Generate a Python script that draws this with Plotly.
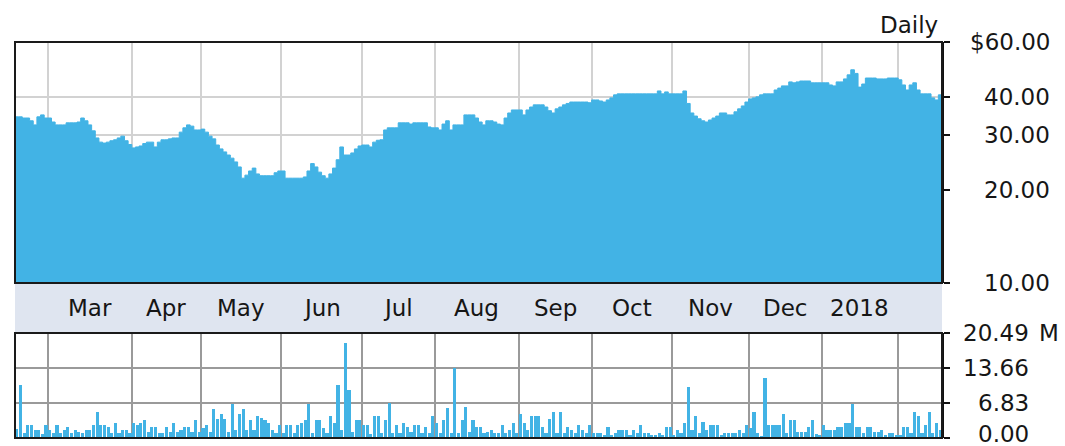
import math
import pandas as pd
import plotly.graph_objects as go

# ---- trading calendar -------------------------------------------------------
MARKET_HOLIDAYS = ["2017-02-20", "2017-04-14", "2017-05-29", "2017-07-04",
                   "2017-09-04", "2017-11-23", "2017-12-25", "2018-01-01",
                   "2018-01-15"]
START_DATE = "2017-02-15"
END_DATE = "2018-02-16"

# ---- daily closing price ($) ------------------------------------------------
price_feb17 = [34.4, 34.4, 34.1, 34.1, 33.4, 32.4, 34.4, 34.9, 34.1]
price_mar = [34.1, 33.1, 32.4, 32.4, 32.4, 32.9, 32.9, 32.9, 33.1, 34.1, 33.4, 32.4,
             31.0, 29.4, 28.5, 28.3, 28.5, 28.8, 29.0, 29.4, 29.8, 28.8, 28.0]
price_apr = [27.3, 27.5, 27.7, 28.2, 28.5, 28.5, 27.5, 28.5, 29.0, 29.0, 29.2, 29.4,
             29.4, 30.7, 31.7, 32.4, 32.1, 31.2, 31.2]
price_may = [31.4, 30.7, 29.8, 29.2, 27.9, 27.1, 26.5, 25.9, 25.3, 24.6, 23.7, 21.8,
             22.3, 23.0, 23.5, 22.5, 22.2, 22.2, 22.2, 22.2, 22.7, 23.0]
price_jun = [23.0, 21.8, 21.8, 21.8, 21.8, 21.8, 22.0, 23.0, 24.3, 23.7, 22.8, 22.2,
             21.8, 22.5, 23.5, 25.0, 27.5, 25.9, 25.9, 26.3, 27.1, 27.7]
price_jul = [27.9, 27.9, 27.5, 28.5, 28.9, 29.0, 31.2, 31.7, 31.7, 31.7, 32.9, 32.9,
             32.9, 32.6, 32.9, 32.9, 32.9, 32.9, 31.9, 31.7]
price_aug = [31.7, 31.2, 32.6, 33.4, 31.2, 32.4, 32.4, 32.4, 34.9, 34.9, 34.9, 34.1,
             33.1, 32.4, 33.4, 33.4, 33.1, 32.6, 32.4, 34.1, 35.4, 36.2, 36.2]
price_sep = [36.2, 34.9, 36.2, 37.0, 37.6, 37.6, 37.6, 37.0, 36.0, 35.4, 36.5, 37.0,
             37.6, 38.0, 38.4, 38.4, 38.4, 38.4, 38.4, 38.2]
price_oct = [39.0, 39.0, 38.7, 38.4, 39.0, 39.6, 40.5, 40.8, 40.8, 40.8, 40.8, 40.8,
             40.8, 40.8, 40.8, 40.8, 40.8, 40.8, 41.7, 40.8, 41.4, 40.8]
price_nov = [40.8, 40.8, 40.8, 41.7, 38.0, 35.4, 34.6, 33.9, 33.4, 33.1, 33.6, 34.1,
             34.6, 35.4, 35.4, 34.9, 34.9, 35.7, 36.5, 37.3, 38.4]
price_dec = [39.3, 39.6, 39.9, 40.5, 40.8, 40.8, 40.8, 42.0, 42.6, 43.3, 43.3, 44.6,
             44.3, 44.6, 44.9, 44.9, 44.9, 44.3, 44.3, 44.3]
price_jan = [44.3, 44.3, 43.6, 43.3, 44.6, 44.6, 45.6, 47.0, 48.8, 47.5, 42.9, 43.9,
             45.9, 45.9, 45.9, 45.6, 45.6, 45.6, 45.9, 45.9, 45.9]
price_feb18 = [45.3, 43.6, 42.0, 43.6, 44.3, 42.0, 40.8, 40.8, 40.8, 39.6, 39.0, 40.5]

# ---- daily volume (millions of shares) --------------------------------------
vol_feb17 = [1.8, 10.3, 1.0, 2.5, 2.5, 1.6, 1.6, 0.8, 2.5]
vol_mar = [1.6, 0.9, 2.5, 1.0, 1.6, 2.1, 1.0, 1.6, 1.2, 1.0, 1.6, 1.6, 2.5, 5.1,
           2.5, 2.5, 2.1, 1.0, 2.9, 1.0, 1.6, 1.6, 1.0]
vol_apr = [3.0, 2.5, 3.0, 3.6, 1.2, 2.1, 2.1, 1.0, 0.9, 2.1, 1.2, 3.0, 1.2, 1.6,
           2.1, 2.1, 1.2, 3.5, 1.2]
vol_may = [1.9, 2.5, 1.2, 5.6, 3.8, 4.7, 3.8, 1.2, 6.6, 1.5, 4.7, 5.6, 1.5, 3.5,
           1.5, 4.2, 4.0, 3.5, 3.0, 1.6, 1.0, 2.5]
vol_jun = [1.0, 2.5, 2.5, 1.0, 2.5, 3.0, 3.5, 6.6, 1.0, 3.6, 3.6, 1.9, 1.0, 4.2,
           3.0, 10.3, 1.5, 18.6, 9.4, 1.2, 3.5, 3.6]
vol_jul = [2.5, 2.5, 0.8, 4.2, 4.2, 1.0, 3.5, 6.8, 1.0, 2.5, 1.0, 3.0, 2.1, 1.2,
           2.5, 2.5, 1.0, 2.1, 1.0, 4.2]
vol_aug = [3.0, 0.9, 3.5, 5.8, 1.0, 13.6, 1.0, 3.5, 6.0, 1.2, 3.5, 2.1, 2.1, 1.0,
           1.2, 1.6, 0.9, 1.0, 2.5, 1.0, 1.6, 3.0, 1.0]
vol_sep = [4.7, 3.0, 1.6, 4.2, 4.2, 4.2, 2.1, 1.0, 3.8, 5.1, 1.0, 5.1, 1.0, 2.1,
           1.6, 1.0, 2.5, 1.6, 0.9, 2.5]
vol_oct = [0.9, 0.9, 0.9, 0.6, 2.1, 0.6, 0.9, 1.6, 1.6, 1.6, 0.6, 1.6, 1.0, 2.5,
           0.9, 0.9, 0.6, 0.6, 0.9, 0.6, 2.1, 2.1]
vol_nov = [0.6, 1.6, 0.9, 3.0, 10.0, 1.6, 4.2, 1.0, 3.2, 1.6, 2.5, 2.5, 2.5, 0.6,
           1.0, 0.9, 0.9, 0.9, 1.6, 1.0, 2.5]
vol_dec = [2.0, 5.1, 1.0, 0.4, 11.8, 2.5, 2.5, 2.5, 2.5, 4.7, 1.0, 3.5, 3.5, 1.2,
           1.2, 1.2, 2.1, 3.6, 0.8, 0.6]
vol_jan = [2.5, 1.6, 1.6, 1.6, 2.1, 2.1, 3.0, 3.0, 6.6, 2.1, 2.1, 1.0, 2.1, 2.1,
           1.2, 1.2, 1.6, 0.6, 0.9, 0.9, 0.6]
vol_feb18 = [0.6, 2.1, 2.1, 1.0, 5.1, 4.2, 1.0, 2.5, 5.1, 0.9, 3.0, 1.5]

# ---- axis labels ------------------------------------------------------------
MONTH_LABELS = ["Mar", "Apr", "May", "Jun", "Jul", "Aug", "Sep", "Oct", "Nov",
                "Dec", "2018"]
PRICE_TICKS = [10, 20, 30, 40, 60]
PRICE_TICK_TEXT = ["10.00", "20.00", "30.00", "40.00", "$60.00"]
PRICE_EXTRA_GRID = 50
VOL_TICKS = [0.0, 6.83, 13.66, 20.49]
VOL_TICK_TEXT = ["0.00", "6.83", "13.66", "20.49"]
VOL_UNIT = "M"
PERIOD_LABEL = "Daily"

# ---- assemble series --------------------------------------------------------
price = (price_feb17 + price_mar + price_apr + price_may + price_jun + price_jul +
         price_aug + price_sep + price_oct + price_nov + price_dec + price_jan +
         price_feb18)
volume = (vol_feb17 + vol_mar + vol_apr + vol_may + vol_jun + vol_jul + vol_aug +
          vol_sep + vol_oct + vol_nov + vol_dec + vol_jan + vol_feb18)

bday = pd.offsets.CustomBusinessDay(holidays=MARKET_HOLIDAYS)
dates = pd.date_range(START_DATE, END_DATE, freq=bday)
n = len(dates)
assert n == len(price) == len(volume)
idx = list(range(n))

# month boundaries (first trading day of every month after the first)
month_key = [(d.year, d.month) for d in dates]
month_start = [i for i in range(1, n) if month_key[i] != month_key[i - 1]]
bounds = [0] + month_start + [n]
full_months = list(zip(bounds[1:-2], bounds[2:-1]))   # skip partial ends
month_centers = [(a + b - 1) / 2 for a, b in full_months]
grid_x = [i - 0.5 for i in month_start]

# step outline: each day holds its close for one full slot
step_x = [i - 0.5 for i in idx] + [n - 0.5]
step_y = price + [price[-1]]

BLUE = "#42b3e5"
FONT = dict(family="DejaVu Sans", size=23, color="#161616")

PRICE_DOM = [0.3914, 1.0]
VOL_DOM = [0.0, 0.2652]
VOL_MAX = VOL_TICKS[-1]

fig = go.Figure()
fig.add_trace(go.Scatter(x=step_x, y=[PRICE_TICKS[0]] * len(step_x),
                         mode="lines", line=dict(width=0), hoverinfo="skip",
                         showlegend=False))
fig.add_trace(go.Scatter(x=step_x, y=step_y, mode="lines", line_shape="hv",
                         line=dict(color=BLUE, width=1), fill="tonexty",
                         fillcolor=BLUE, showlegend=False))
fig.add_trace(go.Bar(x=idx, y=volume, xaxis="x2", yaxis="y2", width=0.86,
                     marker=dict(color=BLUE, line=dict(width=0)),
                     showlegend=False))

xr = [-0.5, n - 0.5]
fig.update_layout(
    width=1065, height=446,
    margin=dict(l=15, r=123, t=42, b=8),
    paper_bgcolor="white", plot_bgcolor="white",
    font=FONT,
    xaxis=dict(domain=[0, 1], range=xr, anchor="y", tickmode="array",
               tickvals=grid_x, showticklabels=False, ticks="",
               showgrid=True, gridcolor="#d2d2d2", gridwidth=2,
               zeroline=False, showline=False),
    yaxis=dict(domain=PRICE_DOM, type="log",
               range=[math.log10(PRICE_TICKS[0]), math.log10(PRICE_TICKS[-1])],
               side="right", anchor="x", tickmode="array", tickvals=PRICE_TICKS,
               showticklabels=False, ticks="outside", ticklen=6, tickwidth=2,
               tickcolor="#111", showgrid=True, gridcolor="#d2d2d2", gridwidth=2,
               zeroline=False, showline=True, linecolor="#111", linewidth=2),
    xaxis2=dict(domain=[0, 1], range=xr, anchor="y2", matches="x",
                tickmode="array", tickvals=grid_x, showticklabels=False,
                ticks="", showgrid=True, gridcolor="#9a9a9a", gridwidth=2,
                zeroline=False, showline=False),
    yaxis2=dict(domain=VOL_DOM, range=[0, VOL_MAX], side="right", anchor="x2",
                tickmode="array", tickvals=VOL_TICKS, showticklabels=False,
                ticks="outside", ticklen=6, tickwidth=2, tickcolor="#111",
                showgrid=True, gridcolor="#9a9a9a", gridwidth=2,
                zeroline=False, showline=True, linecolor="#111", linewidth=2),
    bargap=0,
)

shapes = [
    # month band background
    dict(type="rect", xref="paper", yref="paper", x0=0, x1=1,
         y0=VOL_DOM[1], y1=PRICE_DOM[0], fillcolor="#dfe5f0",
         line=dict(width=0), layer="below"),
    # extra price gridline
    dict(type="line", xref="paper", yref="y", x0=0, x1=1,
         y0=math.log10(PRICE_EXTRA_GRID), y1=math.log10(PRICE_EXTRA_GRID),
         line=dict(color="#d2d2d2", width=2), layer="below"),
    # panel frames
    dict(type="rect", xref="paper", yref="paper", x0=0, x1=1,
         y0=PRICE_DOM[0], y1=PRICE_DOM[1], line=dict(color="#1a1a1a", width=2),
         layer="above"),
    dict(type="rect", xref="paper", yref="paper", x0=0, x1=1,
         y0=VOL_DOM[0], y1=VOL_DOM[1], line=dict(color="#1a1a1a", width=2),
         layer="above"),
]
fig.update_layout(shapes=shapes)

ann = []
plot_w = 1065 - 15 - 123
def px_to_paper(px):
    return (px - 15) / plot_w

for val, txt in zip(PRICE_TICKS, PRICE_TICK_TEXT):
    ann.append(dict(xref="paper", yref="y", x=px_to_paper(1052),
                    y=math.log10(val), text=txt, showarrow=False,
                    xanchor="right", yanchor="middle", font=FONT))
for val, txt in zip(VOL_TICKS, VOL_TICK_TEXT):
    # the baseline label sits at the page's bottom edge, nudge it up to fit
    ann.append(dict(xref="paper", yref="y2", x=px_to_paper(1031), y=val,
                    text=txt, showarrow=False, xanchor="right",
                    yanchor="middle", yshift=4 if val == 0 else 0, font=FONT))
ann.append(dict(xref="paper", yref="y2", x=px_to_paper(1037), y=VOL_MAX,
                text=VOL_UNIT, showarrow=False, xanchor="left",
                yanchor="middle", font=FONT))
band_mid = (VOL_DOM[1] + PRICE_DOM[0]) / 2
for c, lab in zip(month_centers, MONTH_LABELS):
    ann.append(dict(xref="x", yref="paper", x=c, y=band_mid, text=lab,
                    showarrow=False, xanchor="center", yanchor="middle",
                    font=FONT))
ann.append(dict(xref="paper", yref="paper", x=px_to_paper(940), y=1.0,
                text=PERIOD_LABEL, showarrow=False, xanchor="right",
                yanchor="bottom", yshift=2, font=FONT))
fig.update_layout(annotations=ann)

fig.write_html("out.html")
